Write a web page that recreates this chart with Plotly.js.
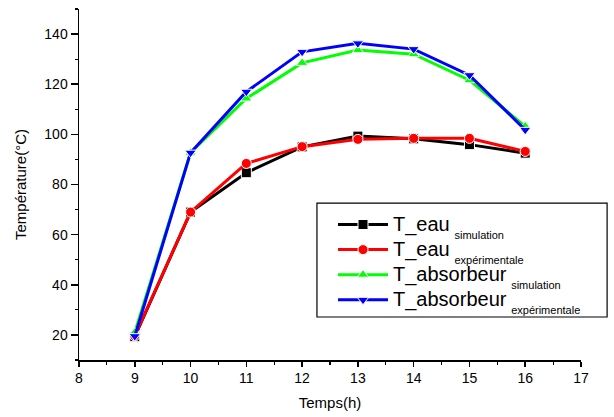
<!DOCTYPE html>
<html><head><meta charset="utf-8">
<script src="https://cdn.plot.ly/plotly-3.0.1.min.js"></script>
<style>body{margin:0;background:#fff}#chart{width:614px;height:417px}</style>
</head><body><div id="chart"></div>
<script>
const hours = [9, 10, 11, 12, 13, 14, 15, 16];
const tEauSim = [19.3, 69, 84.7, 95, 99.3, 98.2, 95.9, 92.5];
const tEauExp = [19.6, 69, 88.4, 95.1, 98, 98.4, 98.4, 93.2];
const tAbsSim = [21, 92.7, 114.3, 128.5, 133.6, 132, 121.6, 103.2];
const tAbsExp = [19.5, 92.7, 117, 132.9, 136.3, 134, 123.6, 101.8];
const mainLabels = ['T_eau', 'T_eau', 'T_absorbeur', 'T_absorbeur'];
const subLabels = ['simulation', 'expérimentale', 'simulation', 'expérimentale'];
const names = mainLabels.map((m, i) =>
  '<span style="font-size:20px">' + m + '</span> <sub><span style="font-size:11px;baseline-shift:-4px">' +
  subLabels[i] + '</span></sub>');
const colors = ['#000000', '#ff0000', '#00ff00', '#0000ff'];
const symbols = ['square', 'circle', 'triangle-up', 'triangle-down'];
const series = [tEauSim, tEauExp, tAbsSim, tAbsExp];
const traces = series.map((ys, i) => ({
  x: hours, y: ys, name: names[i], type: 'scatter', mode: 'lines+markers',
  line: {color: colors[i], width: 3},
  marker: {symbol: symbols[i], size: 10, color: colors[i], line: {color: '#ffffff', width: 1}}
}));
const axisFont = {family: 'Liberation Sans, Arial, sans-serif', size: 14, color: '#000'};
const layout = {
  width: 614, height: 417,
  margin: {l: 79, r: 33, t: 9, b: 57},
  paper_bgcolor: '#fff', plot_bgcolor: '#fff',
  showlegend: true,
  font: {family: 'Liberation Sans, Arial, sans-serif', color: '#000'},
  xaxis: {
    range: [8, 17], dtick: 1, tick0: 8, showgrid: false, zeroline: false,
    showline: true, linecolor: '#000', linewidth: 1.5, mirror: false,
    ticks: 'outside', ticklen: 5, tickwidth: 1.5, tickcolor: '#000',
    minor: {dtick: 0.5, ticks: 'outside', ticklen: 3, tickcolor: '#000', tickwidth: 1.2, showgrid: false},
    tickfont: axisFont,
    title: {text: 'Temps(h)', font: {size: 15}, standoff: 12}
  },
  yaxis: {
    range: [10, 150], dtick: 20, tick0: 0, showgrid: false, zeroline: false,
    showline: true, linecolor: '#000', linewidth: 1.5, mirror: false,
    ticks: 'outside', ticklen: 7, tickwidth: 1.5, tickcolor: '#000',
    minor: {dtick: 10, ticks: 'outside', ticklen: 3, tickcolor: '#000', tickwidth: 1.2, showgrid: false},
    tickfont: axisFont,
    title: {text: 'Température(°C)', font: {size: 15}, standoff: 14}
  },
  shapes: [{
    type: 'rect', xref: 'paper', yref: 'paper',
    x0: 0.474, x1: 1.052, y0: 0.1225, y1: 0.447,
    line: {color: '#000', width: 1.2}, fillcolor: 'rgba(0,0,0,0)', layer: 'above'
  }],
  legend: {
    x: 0.506, y: 0.436, xanchor: 'left', yanchor: 'top',
    bgcolor: 'rgba(0,0,0,0)', borderwidth: 0,
    font: {size: 17, color: '#000'}, itemwidth: 50, tracegroupgap: 0
  }
};
Plotly.newPlot('chart', traces, layout, {displayModeBar: false, staticPlot: true});
</script></body></html>
